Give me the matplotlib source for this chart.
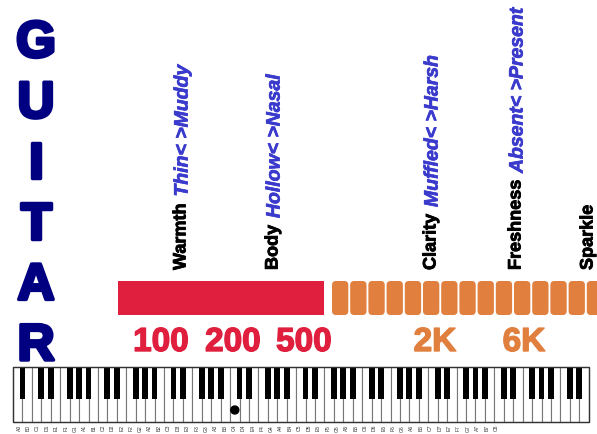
import matplotlib
matplotlib.use('Agg')
import matplotlib.pyplot as plt
from matplotlib.patches import Rectangle, FancyBboxPatch, Circle
import matplotlib.patheffects as pe

plt.rcParams['font.family'] = ['Liberation Sans', 'DejaVu Sans']

TITLE = 'GUITAR'
BANDS = ['Warmth', 'Body', 'Clarity', 'Freshness', 'Sparkle']
BAND_TONES = ['Thin< >Muddy', 'Hollow< >Nasal', 'Muffled< >Harsh', 'Absent< >Present', '']
BAND_X = [181, 273, 431, 516, 588]
LOW_LABELS = ['100', '200', '500']
LOW_X = [161, 233, 304]
HIGH_LABELS = ['2K', '6K']
HIGH_X = [435, 524]
LOW_SPAN = (118, 324)
HIGH_START = 332
HIGH_SEGMENTS = 15
KEY_NAMES = ['A0', 'B0'] + [n + str(o) for o in range(1, 8) for n in 'CDEFGAB'] + ['C8']
MARKED_KEY = 'C4'
N_WHITE = 61

NAVY = '#000080'
RED = '#e01f3e'
ORANGE = '#e07f3e'
BLUE = '#3a3acc'

# keyboard geometry (pixels)
KB_LEFT, KB_RIGHT = 13, 588.7
KB_TOP, KB_BOT = 368, 423
BLACK_BOT = 400
key_w = (KB_RIGHT - KB_LEFT) / N_WHITE

fig = plt.figure(figsize=(5.97, 4.35), dpi=100)
ax = fig.add_axes([0, 0, 1, 1])
ax.set_xlim(0, 597)
ax.set_ylim(435, 0)
ax.axis('off')

# title letters
for k, ch in enumerate(TITLE):
    ax.text(36, 58 + 60.6 * k, ch, ha='center', va='baseline', fontsize=37,
            weight='bold', color=NAVY,
            path_effects=[pe.withStroke(linewidth=2.5, foreground=NAVY)])

# band labels
for name, tone, x in zip(BANDS, BAND_TONES, BAND_X):
    t = ax.text(x, 271, name, rotation=90, ha='center', va='bottom',
                fontsize=13, weight='bold', color='black',
                path_effects=[pe.withStroke(linewidth=0.6, foreground='black')])
    if tone:
        ax.annotate(tone, xy=(0.5, 1), xycoords=t, xytext=(1.5, 5),
                    textcoords='offset points', rotation=90, ha='center',
                    va='bottom', fontsize=14, weight='bold', style='italic',
                    color=BLUE,
                    path_effects=[pe.withStroke(linewidth=0.5, foreground=BLUE)])

# low range bar
ax.add_patch(Rectangle((LOW_SPAN[0], 282), LOW_SPAN[1] - LOW_SPAN[0], 34,
                       facecolor=RED, edgecolor='none'))
# high range segments
seg_period, seg_w = 18.2, 16.3
for i in range(HIGH_SEGMENTS):
    ax.add_patch(FancyBboxPatch((HIGH_START + i * seg_period, 282), seg_w, 34,
                                boxstyle='round,pad=0,rounding_size=4',
                                facecolor=ORANGE, edgecolor='none'))

for lab, x in zip(LOW_LABELS, LOW_X):
    ax.text(x, 352, lab, ha='center', va='baseline', fontsize=24, weight='bold',
            color=RED, path_effects=[pe.withStroke(linewidth=1.0, foreground=RED)])
for lab, x in zip(HIGH_LABELS, HIGH_X):
    ax.text(x, 352, lab, ha='center', va='baseline', fontsize=24, weight='bold',
            color=ORANGE, path_effects=[pe.withStroke(linewidth=1.0, foreground=ORANGE)])

# piano keyboard
for i in range(N_WHITE):
    ax.add_patch(Rectangle((KB_LEFT + i * key_w, KB_TOP), key_w, KB_BOT - KB_TOP,
                           facecolor='white', edgecolor='#777777', lw=0.8))
for i in range(N_WHITE - 1):
    if 'ABCDEFG'[i % 7] in 'ACDFG':
        cx = KB_LEFT + (i + 1) * key_w
        ax.add_patch(Rectangle((cx - 2.9, KB_TOP), 5.8, BLACK_BOT - KB_TOP,
                               facecolor='black', edgecolor='none'))
ax.add_patch(Rectangle((KB_LEFT, KB_TOP), KB_RIGHT - KB_LEFT, KB_BOT - KB_TOP,
                       facecolor='none', edgecolor='#333333', lw=1.0))

mk = KEY_NAMES.index(MARKED_KEY)
ax.add_patch(Circle((KB_LEFT + (mk + 0.5) * key_w, 411), 4, color='black'))

lab_step = (496 - 19) / (len(KEY_NAMES) - 1)
for k, name in enumerate(KEY_NAMES):
    ax.text(19 + k * lab_step, 425, name, rotation=90, ha='center', va='top',
            fontsize=3.6, color='#333333')

fig.savefig('out.png', dpi=100)
